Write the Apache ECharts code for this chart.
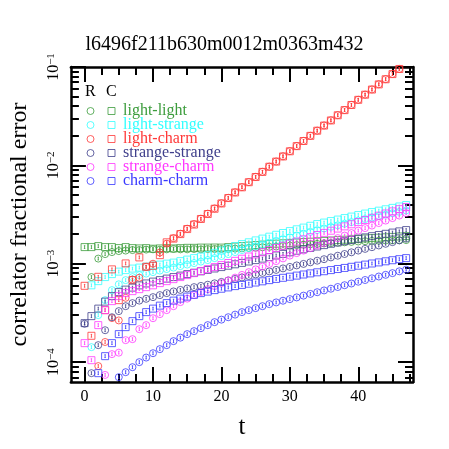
<!DOCTYPE html>
<html>
<head>
<meta charset="utf-8">
<script src="https://cdn.jsdelivr.net/npm/echarts@6/dist/echarts.min.js"></script>
<style>
  html, body { margin: 0; padding: 0; background: #fff; }
  #main { width: 449px; height: 449px; }
</style>
</head>
<body>
<div id="main"></div>
<script>
const FONT = 'Liberation Serif';

const tValues = [0, 1, 2, 3, 4, 5, 6, 7, 8, 9, 10, 11, 12, 13, 14, 15, 16, 17, 18, 19, 20, 21, 22, 23,
  24, 25, 26, 27, 28, 29, 30, 31, 32, 33, 34, 35, 36, 37, 38, 39, 40, 41, 42, 43, 44, 45, 46, 47];

// light-light
const llC = [1.475e-3, 1.475e-3, 1.51e-3, 1.475e-3, 1.475e-3, 1.441e-3, 1.475e-3,
  1.44e-3, 1.43e-3, 1.44e-3, 1.42e-3, 1.43e-3, 1.44e-3, 1.43e-3, 1.44e-3, 1.45e-3, 1.45e-3,
  1.458e-3, 1.458e-3, 1.46e-3, 1.458e-3,
  1.475e-3, 1.493e-3, 1.51e-3, 1.528e-3, 1.546e-3, 1.564e-3, 1.583e-3, 1.598e-3, 1.613e-3, 1.628e-3,
  1.643e-3, 1.658e-3, 1.674e-3, 1.69e-3, 1.706e-3, 1.722e-3, 1.738e-3, 1.754e-3, 1.771e-3, 1.788e-3,
  1.805e-3, 1.822e-3, 1.839e-3, 1.856e-3, 1.874e-3, 1.891e-3, 1.909e-3];
const llR = [null, 7.31e-4, 1.127e-3, 1.252e-3, 1.312e-3, 1.344e-3, 1.36e-3, 1.376e-3, 1.376e-3, 1.392e-3,
  1.40e-3, 1.39e-3, 1.40e-3, 1.41e-3, 1.40e-3, 1.40e-3, 1.41e-3, 1.40e-3, 1.41e-3, 1.41e-3, 1.41e-3,
  1.414e-3, 1.424e-3, 1.434e-3, 1.448e-3, 1.455e-3, 1.469e-3, 1.482e-3, 1.496e-3, 1.51e-3, 1.528e-3,
  1.546e-3, 1.561e-3, 1.576e-3, 1.59e-3, 1.605e-3, 1.62e-3, 1.635e-3, 1.651e-3, 1.666e-3, 1.682e-3,
  1.694e-3, 1.706e-3, 1.714e-3, 1.722e-3, 1.73e-3, 1.734e-3, 1.738e-3];

// light-strange
const lsC = [null, 6.03e-4, 6.65e-4, 7.31e-4, 7.84e-4, 8.31e-4, 8.61e-4, 8.92e-4, 9.13e-4, 9.34e-4,
  9.56e-4, 9.79e-4, 1.002e-3, 1.026e-3, 1.062e-3, 1.101e-3, 1.14e-3, 1.181e-3, 1.222e-3, 1.291e-3,
  1.36e-3, 1.434e-3, 1.51e-3, 1.583e-3, 1.651e-3, 1.726e-3, 1.8e-3, 1.883e-3, 1.968e-3, 2.052e-3,
  2.146e-3, 2.238e-3, 2.329e-3, 2.43e-3, 2.529e-3, 2.619e-3, 2.713e-3, 2.81e-3, 2.91e-3, 3.014e-3,
  3.122e-3, 3.234e-3, 3.35e-3, 3.461e-3, 3.577e-3, 3.696e-3, 3.819e-3, 3.946e-3];
const lsR = [null, 1.418e-4, 3.0e-4, 4.263e-4, 5.388e-4, 6.173e-4, 6.81e-4, 7.31e-4, 7.66e-4, 7.93e-4,
  8.21e-4, 8.51e-4, 8.82e-4, 9.13e-4, 9.45e-4, 9.79e-4, 1.014e-3, 1.05e-3, 1.088e-3, 1.14e-3,
  1.195e-3, 1.252e-3, 1.312e-3, 1.376e-3, 1.441e-3, 1.503e-3, 1.568e-3, 1.635e-3, 1.706e-3, 1.779e-3,
  1.856e-3, 1.936e-3, 2.019e-3, 2.106e-3, 2.197e-3, 2.281e-3, 2.368e-3, 2.459e-3, 2.552e-3, 2.65e-3,
  2.744e-3, 2.843e-3, 2.944e-3, 3.05e-3, 3.151e-3, 3.257e-3, 3.365e-3, 3.478e-3];

// light-charm
const lcC = [5.96e-4, 1.85e-4, 7.36e-4, 3.37e-4, 8.76e-4, 4.26e-4, 1.007e-3, 6.81e-4, 1.159e-3, 9.3e-4,
  9.52e-4, 1.222e-3, 1.65e-3, 1.8e-3, 2.0e-3, 2.25e-3, 2.5e-3, 2.85e-3, 3.2e-3, 3.62e-3,
  4.1e-3, 4.65e-3, 5.3e-3, 5.98e-3, 6.74e-3, 7.61e-3, 8.58e-3, 9.68e-3, 1.092e-2, 1.232e-2,
  1.39e-2, 1.568e-2, 1.768e-2, 1.995e-2, 2.25e-2, 2.538e-2, 2.863e-2, 3.23e-2, 3.643e-2, 4.11e-2,
  4.636e-2, 5.229e-2, 5.899e-2, 6.654e-2, 7.506e-2, 8.467e-2, 9.55e-2, null];
const lcR = [null, null, 9.1e-5, 1.6e-4, 2.8e-4, 2.65e-4, 4.5e-4, 6.9e-4, 7.2e-4, 9.3e-4,
  1.0e-3, 1.3e-3, 1.6e-3, 1.82e-3, 2.02e-3, 2.27e-3, 2.53e-3, 2.87e-3, 3.23e-3, 3.65e-3,
  4.12e-3, 4.68e-3, 5.32e-3, 6.0e-3, 6.76e-3, 7.64e-3, 8.6e-3, 9.72e-3, 1.095e-2, 1.236e-2,
  1.394e-2, 1.572e-2, 1.773e-2, 2.0e-2, 2.256e-2, 2.545e-2, 2.87e-2, 3.238e-2, 3.652e-2, 4.12e-2,
  4.648e-2, 5.242e-2, 5.914e-2, 6.67e-2, 7.525e-2, 8.49e-2, 9.57e-2, null];

// strange-strange
const ssC = [2.488e-4, 2.931e-4, 3.494e-4, 4.116e-4, 4.681e-4, 5.142e-4, 5.452e-4, 5.714e-4, 6.017e-4, 6.3e-4,
  6.576e-4, 6.81e-4, 7.054e-4, 7.31e-4, 7.57e-4, 7.84e-4, 8.1e-4, 8.37e-4, 8.65e-4, 8.94e-4,
  9.24e-4, 9.54e-4, 9.86e-4, 1.019e-3, 1.053e-3, 1.088e-3, 1.127e-3, 1.167e-3, 1.212e-3, 1.258e-3,
  1.306e-3, 1.356e-3, 1.401e-3, 1.448e-3, 1.496e-3, 1.546e-3, 1.594e-3, 1.643e-3, 1.694e-3, 1.746e-3,
  1.8e-3, 1.852e-3, 1.905e-3, 1.959e-3, 2.014e-3, 2.072e-3, 2.131e-3, 2.197e-3];
const ssR = [2.45e-4, 7.71e-5, 1.486e-4, 2.107e-4, 2.857e-4, 3.295e-4, 3.7e-4, 3.975e-4, 4.214e-4, 4.395e-4,
  4.573e-4, 4.793e-4, 5.023e-4, 5.226e-4, 5.414e-4, 5.594e-4, 5.78e-4, 5.945e-4, 6.115e-4, 6.32e-4,
  6.53e-4, 6.763e-4, 7.005e-4, 7.255e-4, 7.514e-4, 7.783e-4, 8.061e-4, 8.348e-4, 8.65e-4, 8.96e-4,
  9.28e-4, 9.61e-4, 9.95e-4, 1.033e-3, 1.073e-3, 1.112e-3, 1.159e-3, 1.206e-3, 1.255e-3, 1.306e-3,
  1.36e-3, 1.415e-3, 1.472e-3, 1.532e-3, 1.594e-3, 1.658e-3, 1.726e-3, 1.796e-3];

// strange-charm
const scC = [1.557e-4, 1.045e-4, 2.374e-4, 3.373e-4, 4.164e-4, 4.681e-4, 5.023e-4, 5.262e-4, 5.513e-4, 5.776e-4,
  6.03e-4, 6.35e-4, 6.65e-4, 6.97e-4, 7.31e-4, 7.66e-4, 8.02e-4, 8.41e-4, 8.81e-4, 9.24e-4,
  9.68e-4, 1.017e-3, 1.07e-3, 1.124e-3, 1.184e-3, 1.244e-3, 1.309e-3, 1.376e-3, 1.448e-3, 1.521e-3,
  1.601e-3, 1.682e-3, 1.771e-3, 1.861e-3, 1.959e-3, 2.058e-3, 2.166e-3, 2.276e-3, 2.396e-3, 2.517e-3,
  2.65e-3, 2.784e-3, 2.931e-3, 3.079e-3, 3.241e-3, 3.405e-3, 3.585e-3, 3.766e-3];
const scR = [null, null, null, 7.4e-5, 1.204e-4, 1.246e-4, 1.67e-4, 1.71e-4, 2.16e-4, 2.374e-4,
  2.79e-4, 3.07e-4, 3.373e-4, 3.7e-4, 4.07e-4, 4.415e-4, 4.793e-4, 5.142e-4, 5.513e-4, 5.92e-4,
  6.35e-4, 6.763e-4, 7.22e-4, 7.69e-4, 8.21e-4, 8.76e-4, 9.34e-4, 9.95e-4, 1.062e-3, 1.132e-3,
  1.209e-3, 1.282e-3, 1.36e-3, 1.441e-3, 1.528e-3, 1.62e-3, 1.718e-3, 1.822e-3, 1.932e-3, 2.048e-3,
  2.171e-3, 2.302e-3, 2.441e-3, 2.589e-3, 2.744e-3, 2.91e-3, 3.086e-3, 3.272e-3];

// charm-charm
const ccC = [null, null, 7.71e-5, 1.148e-4, 1.557e-4, 1.923e-4, 2.265e-4, 2.606e-4, 2.931e-4, 3.219e-4,
  3.494e-4, 3.748e-4, 3.975e-4, 4.214e-4, 4.415e-4, 4.628e-4, 4.827e-4, 5.023e-4, 5.202e-4, 5.388e-4,
  5.568e-4, 5.74e-4, 5.92e-4, 6.087e-4, 6.26e-4, 6.438e-4, 6.62e-4, 6.81e-4, 7.005e-4, 7.19e-4,
  7.375e-4, 7.57e-4, 7.765e-4, 7.97e-4, 8.177e-4, 8.39e-4, 8.61e-4, 8.83e-4, 9.06e-4, 9.3e-4,
  9.54e-4, 9.79e-4, 1.005e-3, 1.031e-3, 1.058e-3, 1.085e-3, 1.112e-3, 1.14e-3];
const ccR = [null, null, null, null, null, 7.02e-5, 7.89e-5, 8.87e-5, 9.98e-5, 1.111e-4,
  1.23e-4, 1.353e-4, 1.486e-4, 1.632e-4, 1.771e-4, 1.923e-4, 2.062e-4, 2.212e-4, 2.374e-4, 2.547e-4,
  2.7e-4, 2.857e-4, 3.036e-4, 3.219e-4, 3.373e-4, 3.535e-4, 3.7e-4, 3.882e-4, 4.04e-4, 4.204e-4,
  4.365e-4, 4.542e-4, 4.737e-4, 4.929e-4, 5.13e-4, 5.35e-4, 5.568e-4, 5.795e-4, 6.045e-4, 6.29e-4,
  6.56e-4, 6.827e-4, 7.105e-4, 7.41e-4, 7.71e-4, 8.02e-4, 8.37e-4, 8.71e-4];

const pairNames = ['light-light', 'light-strange', 'light-charm', 'strange-strange', 'strange-charm', 'charm-charm'];
const pairColors = ['#3c9c3c', '#33ffff', '#ff3838', '#40408c', '#ff38ff', '#3838ff'];
const rData = [llR, lsR, lcR, ssR, scR, ccR];
const cData = [llC, lsC, lcC, ssC, scC, ccC];

const xMajor = [0, 10, 20, 30, 40];
const xMinor = [2.5, 5, 7.5, 12.5, 15, 17.5, 22.5, 25, 27.5, 32.5, 35, 37.5, 42.5, 45, 47.5];
const yMajor = [1e-4, 1e-3, 1e-2, 1e-1];
const yMinor = [7e-5, 8e-5, 9e-5,
  2e-4, 3e-4, 4e-4, 5e-4, 6e-4, 7e-4, 8e-4, 9e-4,
  2e-3, 3e-3, 4e-3, 5e-3, 6e-3, 7e-3, 8e-3, 9e-3,
  2e-2, 3e-2, 4e-2, 5e-2, 6e-2, 7e-2, 8e-2, 9e-2];

// circle / square with a tiny error bar inside
const ERR = ' M10 6 L10 14 M8 6 L12 6 M8 14 L12 14';
const CIRCLE = 'path://M0 10 A10 10 0 1 1 20 10 A10 10 0 1 1 0 10 Z' + ERR;
const SQUARE = 'path://M0 0 L20 0 L20 20 L0 20 Z' + ERR;

function toPoints(vals) {
  const out = [];
  vals.forEach((v, i) => { if (v != null) out.push([tValues[i], v]); });
  return out;
}

const series = [];
pairNames.forEach((name, k) => {
  series.push({
    name: name, type: 'scatter', symbol: SQUARE, symbolSize: 7,
    data: toPoints(cData[k]),
    itemStyle: { color: 'rgba(0,0,0,0)', borderColor: pairColors[k], borderWidth: 1, opacity: 0.8 }
  });
  series.push({
    name: name + ' R', type: 'scatter', symbol: CIRCLE, symbolSize: 7,
    data: toPoints(rData[k]),
    itemStyle: { color: 'rgba(0,0,0,0)', borderColor: pairColors[k], borderWidth: 1, opacity: 0.8 }
  });
});

const lineStyle = { color: '#000', width: 2.5 };
function xAx(pos, major, labels) {
  return {
    type: 'value', min: -2, max: 48, position: pos,
    axisLine: { show: major, onZero: false, lineStyle: lineStyle },
    axisTick: { show: true, inside: true, length: major ? 15 : 8,
      customValues: major ? xMajor : xMinor, lineStyle: { color: '#000', width: 2 } },
    axisLabel: labels ? { show: true, customValues: xMajor, margin: 7, color: '#000',
      fontFamily: FONT, fontSize: 16 } : { show: false },
    splitLine: { show: false },
    name: labels ? 't' : '', nameLocation: 'middle', nameGap: 33,
    nameTextStyle: { fontFamily: FONT, fontSize: 25, color: '#000' }
  };
}
function yAx(pos, major, labels) {
  return {
    type: 'log', min: 6.27e-5, max: 0.1, position: pos,
    axisLine: { show: major, onZero: false, lineStyle: lineStyle },
    axisTick: { show: true, inside: true, length: major ? 15 : 8,
      customValues: major ? yMajor : yMinor, lineStyle: { color: '#000', width: 2 } },
    axisLabel: labels ? {
      show: true, customValues: yMajor, rotate: 90, margin: 9,
      formatter: v => '{b|10}{s|\u2212' + Math.abs(Math.round(Math.log10(v))) + '}',
      rich: {
        b: { fontFamily: FONT, fontSize: 16, color: '#000', lineHeight: 16, padding: [6, 0, 0, 0], verticalAlign: 'bottom' },
        s: { fontFamily: FONT, fontSize: 11, color: '#000', lineHeight: 11, verticalAlign: 'top' }
      }
    } : { show: false },
    splitLine: { show: false },
    name: labels ? 'correlator fractional error' : '', nameLocation: 'middle', nameGap: 37,
    nameTextStyle: { fontFamily: FONT, fontSize: 24, color: '#000' }
  };
}

const chart = echarts.init(document.getElementById('main'));
chart.setOption({
  animation: false,
  backgroundColor: '#fff',
  title: {
    text: 'l6496f211b630m0012m0363m432', left: 'center', top: 35, padding: 0,
    textStyle: { fontFamily: FONT, fontSize: 20, fontWeight: 'normal', color: '#000' }
  },
  grid: { left: 67, top: 67, width: 346, height: 315 },
  xAxis: [xAx('bottom', true, true), xAx('bottom', false, false), xAx('top', true, false), xAx('top', false, false)],
  yAxis: [yAx('left', true, true), yAx('left', false, false), yAx('right', true, false), yAx('right', false, false)],
  legend: [{
    orient: 'vertical', left: 86.5, top: 103, padding: 0, itemWidth: 7, itemHeight: 7, itemGap: -2,
    selectedMode: false, formatter: () => ' ',
    textStyle: { fontFamily: FONT, fontSize: 16, lineHeight: 14 },
    data: pairNames.map((n, k) => ({ name: n + ' R', icon: 'circle',
      itemStyle: { color: 'rgba(0,0,0,0)', borderColor: pairColors[k], borderWidth: 1 } }))
  }, {
    orient: 'vertical', left: 107.5, top: 103, padding: 0, itemWidth: 7, itemHeight: 7, itemGap: -2,
    selectedMode: false,
    textStyle: { fontFamily: FONT, fontSize: 16, lineHeight: 14, padding: [0, 0, 0, 3] },
    data: pairNames.map((n, k) => ({ name: n, icon: 'rect',
      itemStyle: { color: 'rgba(0,0,0,0)', borderColor: pairColors[k], borderWidth: 1 },
      textStyle: { color: pairColors[k] } }))
  }],
  graphic: [
    { type: 'text', left: 85, top: 84, style: { text: 'R', fontFamily: FONT, fontSize: 16, fill: '#000' } },
    { type: 'text', left: 106, top: 84, style: { text: 'C', fontFamily: FONT, fontSize: 16, fill: '#000' } }
  ],
  series: series.map(s => Object.assign(s, { xAxisIndex: 0, yAxisIndex: 0 }))
});
</script>
</body>
</html>
